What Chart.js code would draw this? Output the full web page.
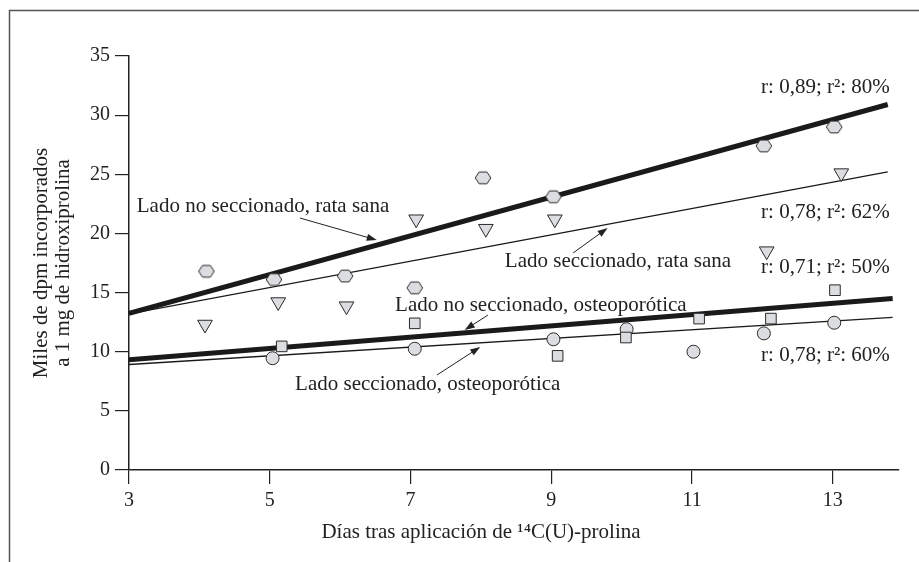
<!DOCTYPE html>
<html lang="es">
<head>
<meta charset="UTF-8">
<title>Incorporación de 14C(U)-prolina</title>
<script src="https://cdn.jsdelivr.net/npm/chart.js"></script>
<style>
  *{margin:0;padding:0;box-sizing:border-box;}
  body{background:#fff;width:919px;height:562px;overflow:hidden;}
  .wrap{position:relative;width:919px;height:562px;}
</style>
</head>
<body>
<div class="wrap"><canvas id="chart" width="919" height="562"></canvas></div>
<script>
// ejes
const xTicks=[3,5,7,9,11,13];
const yTicks=[0,5,10,15,20,25,30,35];
const xMin=3, xMax=13.94, yMin=0, yMax=35;

const sanoNoSecX=[4.1,5.06,6.07,7.06,8.03,9.03,12.02,13.02];
const sanoNoSecY=[16.8,16.1,16.4,15.4,24.7,23.1,27.4,29.0];
const sanoSecX=[4.08,5.12,6.09,7.08,8.07,9.05,12.06,13.12];
const sanoSecY=[12.3,14.2,13.85,21.2,20.4,21.2,18.5,25.1];
const osteoNoSecX=[5.17,7.06,9.09,10.06,11.1,12.12,13.03];
const osteoNoSecY=[10.45,12.4,9.65,11.2,12.8,12.8,15.2];
const osteoSecX=[5.04,7.06,9.03,10.07,11.02,12.02,13.02];
const osteoSecY=[9.45,10.25,11.05,11.9,10.0,11.55,12.45];

// rectas de regresión (extremos leídos)
const fitSanoX=[3,13.78];
const fitSanoNoSecY=[13.25,30.9];
const fitSanoSecY=[13.2,25.2];
const fitOsteoX=[3,13.85];
const fitOsteoNoSecY=[9.32,14.5];
const fitOsteoSecY=[8.92,12.9];

const yTitle=['Miles de dpm incorporados','a 1 mg de hidroxiprolina'];
const xTitle='Días tras aplicación de ¹⁴C(U)-prolina';

const FONT='"Liberation Serif", "DejaVu Serif", serif';
const ink='#1a1a1a', fill='#dcdde0', edge='#2a2a2a';

// anotaciones (posición en unidades de datos)
const notes=[
  {t:'r: 0,89; r²: 80%', x:13.81, y:32.3, a:'right'},
  {t:'r: 0,78; r²: 62%', x:13.81, y:21.75, a:'right'},
  {t:'r: 0,71; r²: 50%', x:13.81, y:17.08, a:'right'},
  {t:'r: 0,78; r²: 60%', x:13.81, y:9.72, a:'right'},
  {t:'Lado no seccionado, rata sana', x:3.11, y:22.32, a:'left'},
  {t:'Lado seccionado, rata sana', x:8.34, y:17.6, a:'left'},
  {t:'Lado no seccionado, osteoporótica', x:6.78, y:13.95, a:'left'},
  {t:'Lado seccionado, osteoporótica', x:5.36, y:7.19, a:'left'}
];
const arrows=[
  {from:[5.43,21.3], to:[6.52,19.44]},
  {from:[9.31,18.35], to:[9.80,20.46]},
  {from:[8.10,13.1], to:[7.77,11.84]},
  {from:[7.375,8.03], to:[7.99,10.4]}
];

const hexImg=(()=>{
  const c=document.createElement('canvas');c.width=20;c.height=18;
  const g=c.getContext('2d');g.beginPath();
  for(let i=0;i<6;i++){const a=Math.PI/3*i;const px=10+7.8*Math.cos(a),py=9+6.8*Math.sin(a);i?g.lineTo(px,py):g.moveTo(px,py);}
  g.closePath();g.fillStyle=fill;g.fill();g.lineWidth=1;g.strokeStyle=edge;g.stroke();
  return c;
})();

const pts=(xs,ys)=>xs.map((x,i)=>({x,y:ys[i]}));
const fitLine=(xs,ys,w)=>({data:pts(xs,ys),showLine:true,borderColor:ink,borderWidth:w,pointRadius:0,order:2});
const marks=(xs,ys,style,r,rot)=>({data:pts(xs,ys),pointStyle:style,pointRadius:r,pointRotation:rot||0,backgroundColor:fill,borderColor:edge,borderWidth:1,order:1});

const extras={
  id:'extras',
  afterDatasetsDraw(chart){
    const {ctx,scales:{x,y}}=chart;
    ctx.save();
    ctx.fillStyle='#222';ctx.strokeStyle='#222';
    ctx.font='21px '+FONT;ctx.textBaseline='middle';
    notes.forEach(n=>{ctx.textAlign=n.a;ctx.fillText(n.t,x.getPixelForValue(n.x),y.getPixelForValue(n.y));});
    arrows.forEach(ar=>{
      const x0=x.getPixelForValue(ar.from[0]),y0=y.getPixelForValue(ar.from[1]);
      const x1=x.getPixelForValue(ar.to[0]),y1=y.getPixelForValue(ar.to[1]);
      const ang=Math.atan2(y1-y0,x1-x0);
      ctx.lineWidth=1;ctx.beginPath();ctx.moveTo(x0,y0);ctx.lineTo(x1-6*Math.cos(ang),y1-6*Math.sin(ang));ctx.stroke();
      ctx.beginPath();ctx.moveTo(x1,y1);
      ctx.lineTo(x1-10*Math.cos(ang)+3.5*Math.sin(ang),y1-10*Math.sin(ang)-3.5*Math.cos(ang));
      ctx.lineTo(x1-10*Math.cos(ang)-3.5*Math.sin(ang),y1-10*Math.sin(ang)+3.5*Math.cos(ang));
      ctx.closePath();ctx.fill();
    });
    // título eje x
    ctx.textAlign='center';
    ctx.fillText(xTitle,chart.chartArea.left+352,chart.chartArea.bottom+62);
    ctx.restore();
  },
  afterDraw(chart){
    const ctx=chart.ctx;
    ctx.save();ctx.strokeStyle='#555';ctx.lineWidth=1.5;
    ctx.beginPath();ctx.moveTo(9.5,562);ctx.lineTo(9.5,10.5);ctx.lineTo(919,10.5);ctx.stroke();
    ctx.restore();
  }
};

new Chart(document.getElementById('chart'),{
  type:'scatter',
  data:{datasets:[
    fitLine(fitSanoX,fitSanoNoSecY,5),
    fitLine(fitSanoX,fitSanoSecY,1.4),
    fitLine(fitOsteoX,fitOsteoNoSecY,5),
    fitLine(fitOsteoX,fitOsteoSecY,1.4),
    marks(sanoNoSecX,sanoNoSecY,hexImg,8),
    marks(sanoSecX,sanoSecY,'triangle',8.5,180),
    marks(osteoNoSecX,osteoNoSecY,'rect',7.5),
    marks(osteoSecX,osteoSecY,'circle',6.5)
  ]},
  options:{
    responsive:false,animation:false,
    layout:{padding:{top:56,right:20,bottom:0,left:0}},
    plugins:{legend:{display:false},tooltip:{enabled:false}},
    scales:{
      x:{type:'linear',min:xMin,max:xMax,
        afterBuildTicks:s=>{s.ticks=xTicks.map(v=>({value:v}));},
        afterFit:s=>{s.height=92;},
        grid:{drawOnChartArea:false,drawTicks:true,tickLength:14,color:'#222',lineWidth:1.2},
        border:{color:'#222',width:1.5},
        ticks:{font:{family:FONT,size:20},color:'#222',padding:5,maxRotation:0}
      },
      y:{type:'linear',min:yMin,max:yMax,
        afterBuildTicks:s=>{s.ticks=yTicks.map(v=>({value:v}));},
        afterFit:s=>{s.width=129;},
        grid:{drawOnChartArea:false,drawTicks:true,tickLength:14,color:'#222',lineWidth:1.2},
        border:{color:'#222',width:1.5},
        ticks:{font:{family:FONT,size:20},color:'#222',padding:5},
        title:{display:true,text:yTitle,color:'#222',font:{family:FONT,size:21,lineHeight:1.03},padding:{top:31,bottom:0}}
      }
    }
  },
  plugins:[extras]
});
</script>
</body>
</html>
